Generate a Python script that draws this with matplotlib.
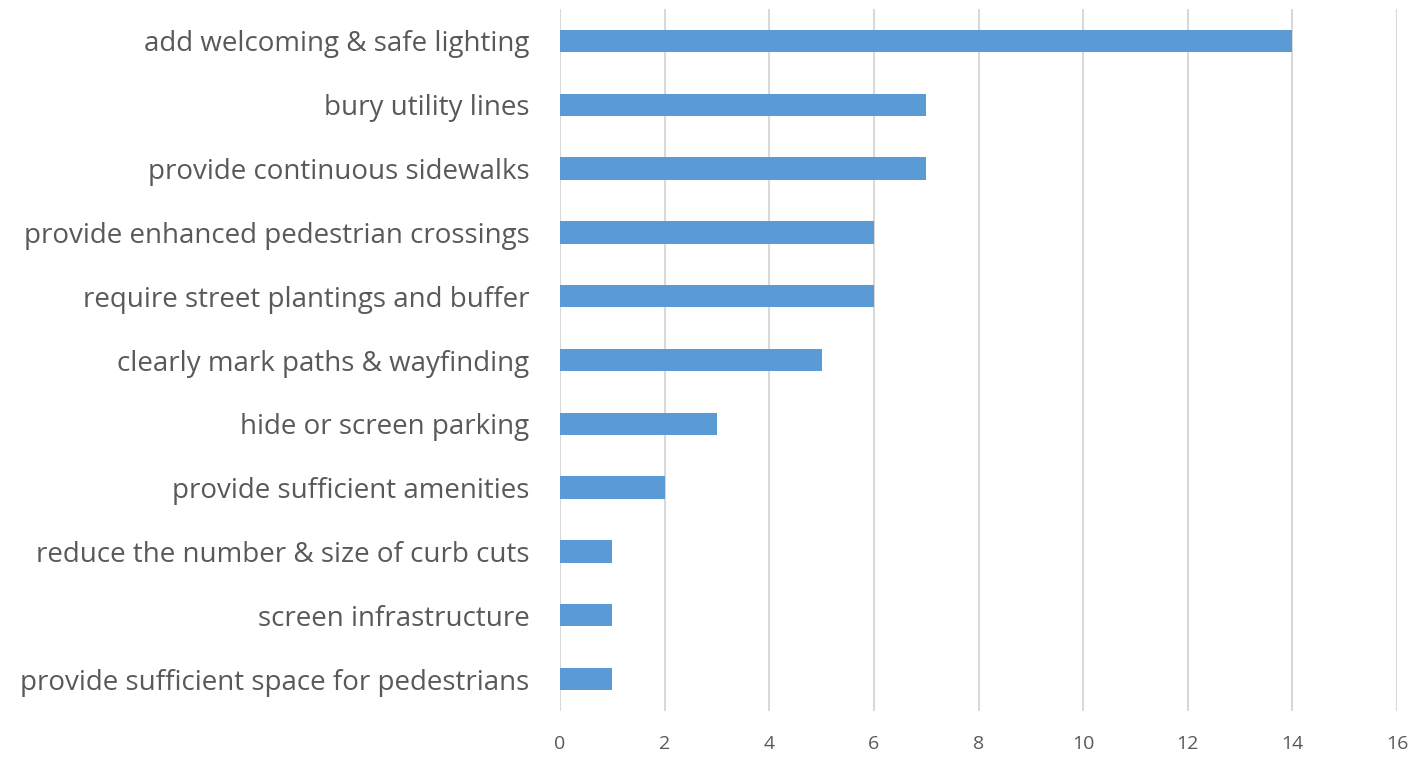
import matplotlib
matplotlib.use("Agg")
import matplotlib.pyplot as plt

categories = [
    "add welcoming & safe lighting",
    "bury utility lines",
    "provide continuous sidewalks",
    "provide enhanced pedestrian crossings",
    "require street plantings and buffer",
    "clearly mark paths & wayfinding",
    "hide or screen parking",
    "provide sufficient amenities",
    "reduce the number & size of curb cuts",
    "screen infrastructure",
    "provide sufficient space for pedestrians",
]
values = [14, 7, 7, 6, 6, 5, 3, 2, 1, 1, 1]
xticks = [0, 2, 4, 6, 8, 10, 12, 14, 16]

plt.rcParams['font.family'] = ['Open Sans', 'DejaVu Sans']

W, H = 1415, 758
fig = plt.figure(figsize=(W / 100, H / 100), dpi=100)
ax = fig.add_axes([560 / W, 1 - 711 / H, (1397 - 560) / W, (711 - 9) / H])

pos = list(range(len(categories)))
ax.barh(pos, values, height=0.35, color="#5B9BD5", zorder=3)
ax.set_ylim(len(categories) - 0.5, -0.5)
ax.set_xlim(0, 16)
ax.set_xticks(xticks)
ax.set_xticklabels([str(t) for t in xticks])
ax.set_yticks(pos)
ax.set_yticklabels(categories)
ax.xaxis.grid(True, color="#D9D9D9", linewidth=1.5, zorder=0)
for s in ax.spines.values():
    s.set_visible(False)
ax.tick_params(axis="y", length=0, pad=22, labelsize=20, labelcolor="#595959")
ax.tick_params(axis="x", length=0, pad=17, labelsize=14, labelcolor="#595959")

fig.savefig("out.png", dpi=100)
